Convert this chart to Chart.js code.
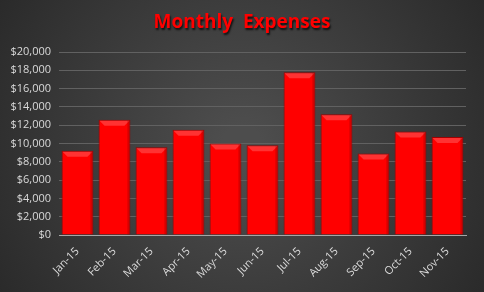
<!DOCTYPE html>
<html>
<head>
<meta charset="utf-8">
<script src="https://cdn.jsdelivr.net/npm/chart.js@4"></script>
<style>
  html, body { margin: 0; padding: 0; background: #333; }
  #wrap { width: 484px; height: 292px; position: relative; }
</style>
</head>
<body>
<div id="wrap"><canvas id="c"></canvas></div>
<script>
// chart data
const months = ['Jan-15', 'Feb-15', 'Mar-15', 'Apr-15', 'May-15', 'Jun-15',
                'Jul-15', 'Aug-15', 'Sep-15', 'Oct-15', 'Nov-15'];
const expenses = [9200, 12600, 9600, 11500, 10000, 9800, 17800, 13200, 8900, 11300, 10700];
const yTicks = [0, 2000, 4000, 6000, 8000, 10000, 12000, 14000, 16000, 18000, 20000];
const chartTitle = 'Monthly  Expenses';

const LABEL_FONT = { family: "'Open Sans', 'Liberation Sans', sans-serif", size: 11 };

// dark radial background + title with shadow
const backdrop = {
  id: 'backdrop',
  beforeDraw(chart) {
    const { ctx, width, height } = chart;
    const g = ctx.createRadialGradient(width / 2, height / 2, 20, width / 2, height / 2, width * 0.62);
    g.addColorStop(0, '#4d4d4d');
    g.addColorStop(1, '#282828');
    ctx.save();
    ctx.fillStyle = g;
    ctx.fillRect(0, 0, width, height);
    ctx.restore();
  },
  afterDraw(chart) {
    const { ctx, width } = chart;
    ctx.save();
    ctx.font = "bold 19px 'Open Sans', 'DejaVu Sans', sans-serif";
    ctx.textAlign = 'center';
    ctx.textBaseline = 'middle';
    ctx.shadowColor = 'rgba(0,0,0,0.75)';
    ctx.shadowOffsetX = 1;
    ctx.shadowOffsetY = 2;
    ctx.shadowBlur = 2;
    ctx.fillStyle = '#ff0000';
    ctx.fillText(chartTitle, width / 2, 23);
    ctx.restore();
  }
};

// bevel highlight along the top of each bar
const bevel = {
  id: 'bevel',
  afterDatasetsDraw(chart) {
    const { ctx } = chart;
    chart.getDatasetMeta(0).data.forEach(bar => {
      const { x, y, width, base } = bar.getProps(['x', 'y', 'width', 'base'], true);
      const l = x - width / 2 + 1, r = x + width / 2 - 1, d = 5;
      ctx.save();
      ctx.fillStyle = 'rgba(255,110,110,0.45)';
      ctx.beginPath();
      ctx.moveTo(l, y + 1);
      ctx.lineTo(r, y + 1);
      ctx.lineTo(r - d, y + 1 + d);
      ctx.lineTo(l + d, y + 1 + d);
      ctx.closePath();
      ctx.fill();
      ctx.fillStyle = 'rgba(120,0,0,0.3)';
      ctx.fillRect(r - 2, y + 1, 2, base - y - 1);
      ctx.restore();
    });
  }
};

new Chart(document.getElementById('c'), {
  type: 'bar',
  data: {
    labels: months,
    datasets: [{
      data: expenses,
      backgroundColor: '#ff0000',
      borderColor: '#a00000',
      borderWidth: 1,
      borderSkipped: 'bottom',
      barPercentage: 0.86,
      categoryPercentage: 1,
    }],
  },
  options: {
    responsive: true,
    maintainAspectRatio: false,
    animation: false,
    layout: { padding: { top: 52, right: 18, left: 0, bottom: 0 } },
    plugins: { legend: { display: false }, tooltip: { enabled: false } },
    scales: {
      x: {
        grid: { display: false },
        border: { color: '#a6a6a6', width: 1 },
        ticks: { color: '#d9d9d9', font: LABEL_FONT, maxRotation: 45, minRotation: 45, padding: 2 },
        afterFit(scale) { scale.height = 57; },
      },
      y: {
        min: 0,
        max: 20000,
        afterBuildTicks(scale) { scale.ticks = yTicks.map(v => ({ value: v })); },
        grid: { color: '#616161', drawTicks: false },
        border: { display: false },
        ticks: {
          color: '#d9d9d9',
          font: LABEL_FONT,
          padding: 8,
          callback: v => '$' + v.toLocaleString('en-US'),
        },
        afterFit(scale) { scale.width = 59; },
      },
    },
  },
  plugins: [backdrop, bevel],
});
</script>
</body>
</html>
